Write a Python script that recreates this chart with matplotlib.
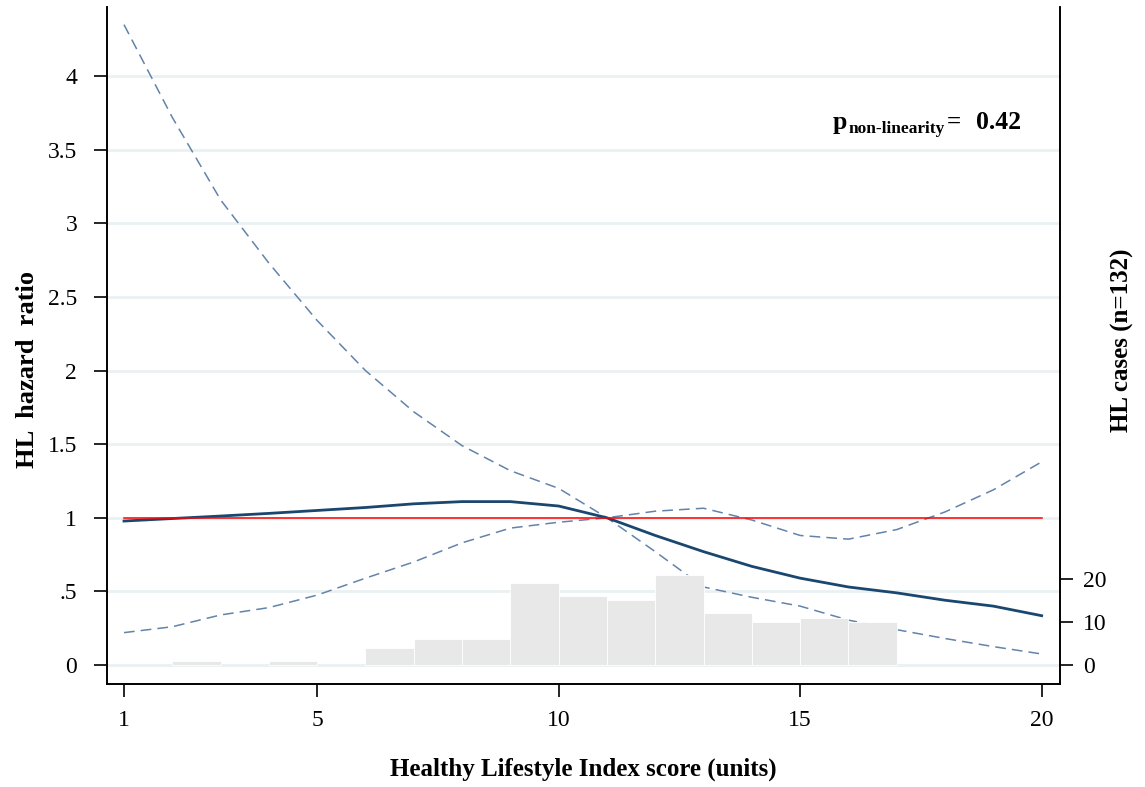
import matplotlib
matplotlib.use("Agg")
import matplotlib.pyplot as plt
import numpy as np

plt.rcParams['font.family'] = ['Liberation Serif', 'DejaVu Serif']

# ---- data ----
score = [1, 2, 3, 4, 5, 6, 7, 8, 9, 10, 11, 12, 13, 14, 15, 16, 17, 18, 19, 20]
hr = [0.978, 0.995, 1.012, 1.03, 1.05, 1.07, 1.095, 1.11, 1.11, 1.08, 1.0, 0.88,
      0.77, 0.67, 0.59, 0.53, 0.49, 0.44, 0.40, 0.335]
ci_line1 = [4.35, 3.72, 3.16, 2.73, 2.34, 2.0, 1.72, 1.49, 1.32, 1.20, 1.0, 0.77,
            0.53, 0.46, 0.40, 0.305, 0.24, 0.18, 0.125, 0.075]
ci_line2 = [0.22, 0.26, 0.34, 0.39, 0.475, 0.59, 0.70, 0.83, 0.93, 0.97, 1.0, 1.045,
            1.065, 0.985, 0.88, 0.855, 0.92, 1.04, 1.19, 1.38]
hist_left = [2, 4, 6, 7, 8, 9, 10, 11, 12, 13, 14, 15, 16]
hist_counts = [1, 1, 4, 6, 6, 19, 16, 15, 21, 12, 10, 11, 10]
yticks = [0, 0.5, 1, 1.5, 2, 2.5, 3, 3.5, 4]
yticklabels = ["0", ".5", "1", "1.5", "2", "2.5", "3", "3.5", "4"]
xticks = [1, 5, 10, 15, 20]
rticks = [0, 10, 20]

W, H = 1145, 787
fig = plt.figure(figsize=(W / 100, H / 100), dpi=100)
ax = fig.add_axes([107 / W, (H - 684) / H, (1060 - 107) / W, (684 - 7) / H])
ax2 = ax.twinx()

ax.set_xlim(0.648, 20.38)
ax.set_ylim(-0.129, 4.47)
ax2.set_ylim(-4.42, 153)

ax.set_yticks(yticks)
ax.set_yticklabels(yticklabels)
ax.set_xticks(xticks)
ax2.set_yticks(rticks)

for y in yticks:
    ax.axhline(y, color='#eaf1f2', lw=2.0, zorder=0)

ax.plot(score, ci_line1, color='#6283aa', lw=1.1, dashes=(7, 4), zorder=2)
ax.plot(score, ci_line2, color='#6283aa', lw=1.1, dashes=(7, 4), zorder=2)
ax.plot(score, hr, color='#1a476f', lw=2.0, zorder=3)
ax.plot([score[0], score[-1]], [1, 1], color='#ff0000', lw=1.1, zorder=4)

ax2.bar(hist_left, hist_counts, width=1.0, align='edge', color='#e8e8e8',
        edgecolor='white', linewidth=0.6, zorder=1)

for sp in ['top']:
    ax.spines[sp].set_visible(False)
    ax2.spines[sp].set_visible(False)
for sp in ['left', 'bottom', 'right']:
    ax.spines[sp].set_linewidth(1.2)
    ax2.spines[sp].set_linewidth(1.2)

ax.tick_params(axis='y', length=9.5, width=1.2, pad=12, labelsize=17)
ax.tick_params(axis='x', length=9.5, width=1.2, pad=9, labelsize=17)
ax2.tick_params(axis='y', length=9.5, width=1.2, pad=7, labelsize=17)

ax.set_ylabel("HL  hazard  ratio", fontsize=19, fontweight='bold')
ax.yaxis.set_label_coords(-0.071, 0.464)
ax.set_xlabel("Healthy Lifestyle Index score (units)", fontsize=18, fontweight='bold')
ax.xaxis.set_label_coords(0.5, -0.108)
ax2.set_ylabel("HL cases (n=132)", fontsize=18, fontweight='bold')
ax2.yaxis.set_label_coords(1.053, 0.508)

fig.text(833 / W, (H - 129) / H, "p", fontsize=18.5, fontweight='bold', va='baseline', ha='left')
fig.text(849 / W, (H - 133) / H, "non-linearity", fontsize=12.5, fontweight='bold', va='baseline', ha='left')
fig.text(947 / W, (H - 129) / H, "=", fontsize=18, fontweight='bold', va='baseline', ha='left')
fig.text(976 / W, (H - 129) / H, "0.42", fontsize=18.5, fontweight='bold', va='baseline', ha='left')

fig.savefig("out.png", dpi=100)
